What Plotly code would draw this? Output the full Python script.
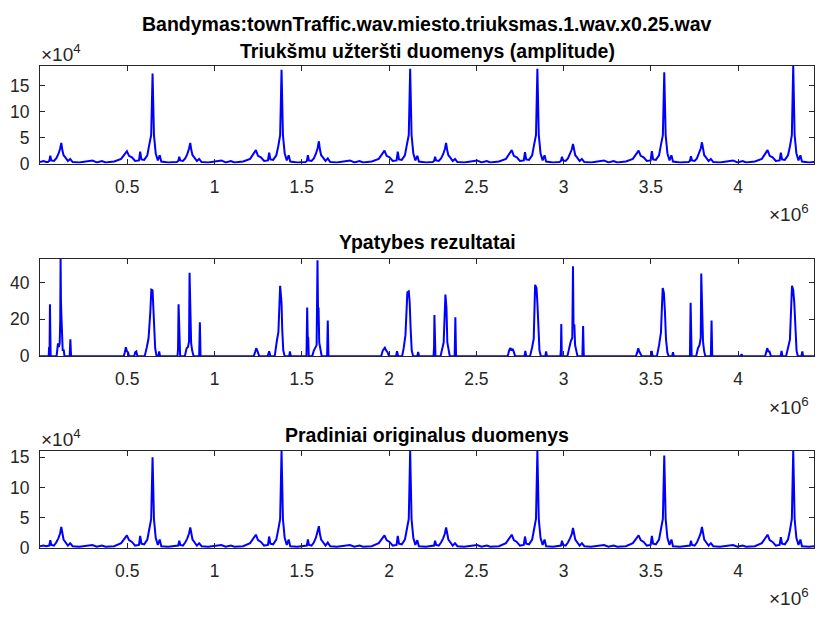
import plotly.graph_objects as go

# ---------------- data (x in units of 1e6 samples) ----------------
# Top: noisy data amplitude (units of 1e4)
noisy_x = [
    0.000, 0.020, 0.035,
    0.045, 0.053, 0.059, 0.065, 0.080, 0.093, 0.105, 0.115, 0.122, 0.128, 0.135, 0.145, 0.160, 0.173, 0.187, 0.225, 0.265, 0.300, 0.325, 0.355, 0.375, 0.425, 0.465, 0.485, 0.498, 0.510, 0.527, 0.545, 0.567, 0.574, 0.581, 0.597, 0.615, 0.626, 0.637, 0.645, 0.653, 0.663, 0.675, 0.686, 0.695, 0.735, 0.765,
    0.784, 0.792, 0.798, 0.804, 0.819, 0.832, 0.844, 0.854, 0.861, 0.867, 0.874, 0.884, 0.899, 0.912, 0.926, 0.964, 1.004, 1.039, 1.064, 1.094, 1.114, 1.164, 1.204, 1.224, 1.237, 1.249, 1.266, 1.284, 1.306, 1.313, 1.320, 1.336, 1.354, 1.365, 1.376, 1.384, 1.392, 1.402, 1.414, 1.425, 1.434, 1.474, 1.504,
    1.521, 1.529, 1.535, 1.541, 1.556, 1.569, 1.581, 1.591, 1.598, 1.604, 1.611, 1.621, 1.636, 1.649, 1.663, 1.701, 1.741, 1.776, 1.801, 1.831, 1.851, 1.901, 1.941, 1.961, 1.974, 1.986, 2.003, 2.021, 2.043, 2.050, 2.057, 2.073, 2.091, 2.102, 2.113, 2.121, 2.129, 2.139, 2.151, 2.162, 2.171, 2.211, 2.241,
    2.250, 2.258, 2.264, 2.270, 2.285, 2.298, 2.310, 2.320, 2.327, 2.333, 2.340, 2.350, 2.365, 2.378, 2.392, 2.430, 2.470, 2.505, 2.530, 2.560, 2.580, 2.630, 2.670, 2.690, 2.703, 2.715, 2.732, 2.750, 2.772, 2.779, 2.786, 2.802, 2.820, 2.831, 2.842, 2.850, 2.858, 2.868, 2.880, 2.891, 2.900, 2.940, 2.970,
    2.977, 2.985, 2.991, 2.997, 3.012, 3.025, 3.037, 3.047, 3.054, 3.060, 3.067, 3.077, 3.092, 3.105, 3.119, 3.157, 3.197, 3.232, 3.257, 3.287, 3.307, 3.357, 3.397, 3.417, 3.430, 3.442, 3.459, 3.477, 3.499, 3.506, 3.513, 3.529, 3.547, 3.558, 3.569, 3.577, 3.585, 3.595, 3.607, 3.618, 3.627, 3.667, 3.697,
    3.716, 3.724, 3.730, 3.736, 3.751, 3.764, 3.776, 3.786, 3.793, 3.799, 3.806, 3.816, 3.831, 3.844, 3.858, 3.896, 3.936, 3.971, 3.996, 4.026, 4.046, 4.096, 4.136, 4.156, 4.169, 4.181, 4.198, 4.216, 4.238, 4.245, 4.252, 4.268, 4.286, 4.297, 4.308, 4.316, 4.324, 4.334, 4.346, 4.357, 4.366, 4.406, 4.435,
]
noisy_y = [
    0.3, 0.5, 0.3,
    0.3, 0.5, 1.5, 0.6, 0.5, 1.0, 1.8, 2.8, 4.0, 2.6, 1.6, 1.2, 0.5, 0.9, 0.3, 0.2, 0.4, 0.6, 0.2, 0.5, 0.2, 0.4, 0.9, 1.8, 2.4, 1.5, 1.2, 0.5, 0.6, 2.3, 0.8, 0.7, 1.6, 3.6, 5.5, 17.4, 5.5, 2.0, 0.6, 1.6, 0.4, 0.2, 0.3,
    0.3, 0.5, 1.3, 0.6, 0.5, 1.0, 1.8, 2.9, 4.0, 2.6, 1.6, 1.2, 0.5, 0.9, 0.3, 0.2, 0.4, 0.6, 0.2, 0.5, 0.2, 0.4, 0.9, 1.8, 2.6, 1.5, 1.2, 0.5, 0.6, 2.1, 0.8, 0.7, 1.6, 3.3, 5.5, 18.1, 5.5, 2.0, 0.6, 1.6, 0.4, 0.2, 0.3,
    0.3, 0.5, 1.6, 0.6, 0.5, 1.0, 1.9, 3.0, 4.3, 2.7, 1.6, 1.2, 0.5, 1.0, 0.3, 0.2, 0.4, 0.6, 0.2, 0.5, 0.2, 0.4, 0.9, 1.8, 2.5, 1.5, 1.2, 0.5, 0.6, 2.3, 0.8, 0.7, 1.6, 3.6, 5.5, 18.3, 5.5, 2.0, 0.6, 1.5, 0.4, 0.2, 0.3,
    0.3, 0.5, 1.3, 0.6, 0.5, 1.0, 1.8, 2.8, 4.0, 2.6, 1.6, 1.2, 0.5, 0.9, 0.3, 0.2, 0.4, 0.6, 0.2, 0.5, 0.2, 0.4, 0.9, 1.8, 2.6, 1.5, 1.2, 0.5, 0.6, 2.2, 0.8, 0.7, 1.6, 3.6, 5.5, 18.3, 5.5, 2.0, 0.6, 1.6, 0.4, 0.2, 0.3,
    0.3, 0.5, 1.3, 0.6, 0.5, 1.0, 1.8, 2.7, 3.8, 2.5, 1.6, 1.2, 0.5, 0.9, 0.3, 0.2, 0.4, 0.6, 0.2, 0.5, 0.2, 0.4, 0.9, 1.8, 2.5, 1.5, 1.2, 0.5, 0.6, 2.4, 0.8, 0.7, 1.6, 3.6, 5.5, 17.6, 5.5, 2.0, 0.6, 1.6, 0.4, 0.2, 0.3,
    0.3, 0.5, 1.4, 0.6, 0.5, 1.0, 1.9, 2.9, 4.1, 2.6, 1.6, 1.2, 0.5, 0.9, 0.3, 0.2, 0.4, 0.6, 0.2, 0.5, 0.2, 0.4, 0.9, 1.8, 2.6, 1.5, 1.2, 0.5, 0.6, 2.1, 0.8, 0.7, 1.6, 3.3, 5.5, 18.9, 5.5, 2.0, 0.6, 1.6, 0.4, 0.2, 0.3,
]

# Bottom: original data amplitude (units of 1e4), same sample positions
original_x = noisy_x
original_y = [
    0.3, 0.4, 0.3,
    0.3, 0.4, 1.3, 0.5, 0.4, 0.9, 1.6, 2.4, 3.5, 2.3, 1.4, 1.0, 0.4, 0.8, 0.3, 0.2, 0.3, 0.5, 0.2, 0.4, 0.2, 0.3, 0.8, 1.6, 2.1, 1.3, 1.0, 0.4, 0.5, 2.0, 0.7, 0.6, 1.4, 3.1, 4.8, 15.0, 4.8, 1.7, 0.5, 1.4, 0.3, 0.2, 0.3,
    0.3, 0.4, 1.2, 0.5, 0.4, 0.9, 1.6, 2.4, 3.4, 2.3, 1.4, 1.0, 0.4, 0.8, 0.3, 0.2, 0.3, 0.5, 0.2, 0.4, 0.2, 0.3, 0.8, 1.6, 2.2, 1.3, 1.0, 0.4, 0.5, 1.9, 0.7, 0.6, 1.4, 3.0, 4.8, 16.1, 4.8, 1.7, 0.5, 1.4, 0.3, 0.2, 0.3,
    0.3, 0.4, 1.4, 0.5, 0.4, 0.9, 1.7, 2.6, 3.6, 2.3, 1.4, 1.0, 0.4, 0.9, 0.3, 0.2, 0.3, 0.5, 0.2, 0.4, 0.2, 0.3, 0.8, 1.6, 2.1, 1.3, 1.0, 0.4, 0.5, 2.0, 0.7, 0.6, 1.4, 3.1, 4.8, 16.1, 4.8, 1.7, 0.5, 1.3, 0.3, 0.2, 0.3,
    0.3, 0.4, 1.2, 0.5, 0.4, 0.9, 1.6, 2.4, 3.4, 2.3, 1.4, 1.0, 0.4, 0.8, 0.3, 0.2, 0.3, 0.5, 0.2, 0.4, 0.2, 0.3, 0.8, 1.6, 2.2, 1.3, 1.0, 0.4, 0.5, 1.9, 0.7, 0.6, 1.4, 3.1, 4.8, 16.1, 4.8, 1.7, 0.5, 1.4, 0.3, 0.2, 0.3,
    0.3, 0.4, 1.2, 0.5, 0.4, 0.9, 1.6, 2.3, 3.3, 2.2, 1.4, 1.0, 0.4, 0.8, 0.3, 0.2, 0.3, 0.5, 0.2, 0.4, 0.2, 0.3, 0.8, 1.6, 2.1, 1.3, 1.0, 0.4, 0.5, 2.0, 0.7, 0.6, 1.4, 3.1, 4.8, 15.3, 4.8, 1.7, 0.5, 1.4, 0.3, 0.2, 0.3,
    0.3, 0.4, 1.2, 0.5, 0.4, 0.9, 1.7, 2.5, 3.5, 2.3, 1.4, 1.0, 0.4, 0.8, 0.3, 0.2, 0.3, 0.5, 0.2, 0.4, 0.2, 0.3, 0.8, 1.6, 2.2, 1.3, 1.0, 0.4, 0.5, 1.8, 0.7, 0.6, 1.4, 2.9, 4.8, 16.1, 4.8, 1.7, 0.5, 1.4, 0.3, 0.2, 0.3,
]

# Middle: feature results
feature_x = [
    0.000, 0.050, 0.052, 0.055, 0.057, 0.059, 0.061, 0.095, 0.100, 0.103, 0.108, 0.113, 0.116, 0.118, 0.120, 0.122, 0.125, 0.130, 0.136, 0.140, 0.170, 0.174, 0.178,
    0.480, 0.486, 0.492, 0.498, 0.505, 0.510, 0.540, 0.545, 0.552, 0.558,
    0.600, 0.612, 0.622, 0.632, 0.638, 0.645, 0.649, 0.655, 0.660, 0.668, 0.678, 0.683, 0.688,
    0.788, 0.791, 0.794, 0.797, 0.800, 0.803,
    0.830, 0.840, 0.848, 0.854, 0.857, 0.860, 0.862, 0.866, 0.872, 0.880,
    0.912, 0.916, 0.920,
    1.225, 1.232, 1.239, 1.245, 1.250, 1.256, 1.305, 1.313, 1.320,
    1.345, 1.357, 1.366, 1.376, 1.380, 1.384, 1.388, 1.394, 1.402, 1.428, 1.432, 1.437,
    1.527, 1.531, 1.534, 1.537, 1.540,
    1.560, 1.569, 1.578, 1.585, 1.590, 1.593, 1.596, 1.600, 1.606, 1.614,
    1.645, 1.649, 1.653,
    1.955, 1.964, 1.976, 1.984, 1.992, 2.000, 2.040, 2.046, 2.052,
    2.075, 2.084, 2.094, 2.105, 2.113, 2.118, 2.124, 2.130, 2.138, 2.162, 2.167, 2.172,
    2.255, 2.258, 2.260, 2.263, 2.266,
    2.295, 2.304, 2.313, 2.323, 2.329, 2.334, 2.340, 2.348,
    2.376, 2.380, 2.384,
    2.680, 2.688, 2.695, 2.702, 2.708, 2.716, 2.722, 2.776, 2.781, 2.786,
    2.808, 2.820, 2.829, 2.837, 2.845, 2.850, 2.856, 2.862, 2.870, 2.895, 2.900, 2.905,
    2.982, 2.985, 2.987, 2.990,
    3.022, 3.031, 3.041, 3.050, 3.054, 3.057, 3.062, 3.066, 3.072, 3.080,
    3.108, 3.112, 3.116,
    3.415, 3.422, 3.428, 3.434, 3.440, 3.448, 3.500, 3.505, 3.510,
    3.535, 3.547, 3.558, 3.568, 3.575, 3.581, 3.587, 3.595, 3.602, 3.622, 3.627, 3.632,
    3.724, 3.728, 3.731, 3.734,
    3.760, 3.770, 3.779, 3.786, 3.789, 3.792, 3.795, 3.799, 3.805, 3.812,
    3.844, 3.848, 3.852,
    4.015, 4.020, 4.025,
    4.155, 4.162, 4.167, 4.174, 4.180, 4.188, 4.244, 4.249, 4.254,
    4.275, 4.288, 4.297, 4.309, 4.316, 4.322, 4.328, 4.335, 4.342, 4.363, 4.368, 4.373, 4.435,
]
feature_y = [
    0, 0, 5, 4, 28.1, 6, 0, 0, 4, 6.9, 5, 7, 20, 53.0, 30, 23.7, 7.9, 3, 3.5, 0, 0, 9.2, 0,
    0, 2, 4.8, 2.7, 2, 0, 0, 2, 2.5, 0,
    0, 4.8, 9.7, 23.7, 36.1, 35.7, 26.3, 12.9, 4.3, 0, 0, 2.5, 0,
    0, 4, 28.1, 10.6, 11, 0,
    0, 4.3, 5, 8, 45.3, 23, 22.8, 7, 3, 0,
    0, 18.4, 0,
    0, 2, 4.3, 3, 2, 0, 0, 2.7, 0,
    0, 8.2, 13, 38.2, 35, 29, 14.5, 3, 0, 0, 2.5, 0,
    0, 26.4, 10.5, 10, 0,
    0, 3, 4.8, 6, 52.0, 26, 26.4, 7.5, 3, 0,
    0, 19.3, 0,
    0, 3, 4.6, 3, 2, 0, 0, 2.7, 0,
    0, 4.3, 11.4, 34.7, 35.2, 29.6, 14.5, 3, 0, 0, 2.3, 0,
    0, 5, 22.3, 5, 0,
    0, 4.3, 7.4, 33.4, 26.4, 7.5, 3, 0,
    0, 21.1, 0,
    0, 3, 4.5, 3, 4, 2, 0, 0, 2.9, 0,
    0, 4.8, 9.3, 38.7, 37, 29, 14, 3, 0, 0, 2.5, 0,
    0, 4, 17.5, 0,
    0, 4.3, 7.9, 10, 48.8, 17, 16.8, 6, 3, 0,
    0, 16.3, 0,
    0, 2, 4.3, 2.5, 1.5, 0, 0, 2.9, 0,
    0, 5.8, 12.9, 37, 34.3, 23.7, 9, 2, 0, 0, 2.1, 0,
    0, 29.0, 11, 0,
    0, 4.3, 6, 10, 44.9, 26, 25.6, 8, 3, 0,
    0, 19.3, 0,
    0, 1.0, 0,
    0, 2, 4.3, 2.5, 2.5, 0, 0, 2.9, 0,
    0, 4.8, 8.9, 38.2, 36, 29, 13, 3, 0, 0, 2.5, 0, 0,
]

x_tick_vals = [0.5, 1, 1.5, 2, 2.5, 3, 3.5, 4]
x_tick_text = ["0.5", "1", "1.5", "2", "2.5", "3", "3.5", "4"]
amp_tick_vals = [0, 5, 10, 15]
amp_tick_text = ["0", "5", "10", "15"]
feat_tick_vals = [0, 20, 40]
feat_tick_text = ["0", "20", "40"]

main_title = "Bandymas:townTraffic.wav.miesto.triuksmas.1.wav.x0.25.wav"
titles = ["Triukšmu užteršti duomenys (amplitude)", "Ypatybes rezultatai", "Pradiniai originalus duomenys"]

# ---------------- figure ----------------
W, H = 816, 619
FONT = "Liberation Sans, Arial, Helvetica, sans-serif"
AXC = "#262626"
LINE = "#0000FF"
TICK_SIZE = 17.5
EXP_SIZE = 19
TITLE_SIZE = 19.5

def fy(py):
    return (H - py) / H

x0, x1 = 40 / W, 814 / W
panels = [  # (top px, bottom px)
    (64, 164),
    (261, 360.7),
    (457.3, 556.7),
]

fig = go.Figure()
for xs, ys, xa, ya in [(noisy_x, noisy_y, "x", "y"), (feature_x, feature_y, "x2", "y2"),
                       (original_x, original_y, "x3", "y3")]:
    fig.add_trace(go.Scatter(x=xs, y=ys, mode="lines", line=dict(color=LINE, width=2),
                             xaxis=xa, yaxis=ya, showlegend=False, hoverinfo="skip"))

common_x = dict(range=[0, 4.435], tickvals=x_tick_vals, ticktext=x_tick_text, ticks="inside",
                ticklen=5, tickcolor=AXC, showline=True, linecolor=AXC, linewidth=1, mirror="ticks",
                showgrid=False, zeroline=False, domain=[x0, x1], ticklabelstandoff=7,
                tickfont=dict(family=FONT, size=TICK_SIZE, color=AXC))
common_y = dict(ticks="inside", ticklen=5, tickcolor=AXC, showline=True, linecolor=AXC, linewidth=1,
                mirror="ticks", showgrid=False, zeroline=False, ticklabelstandoff=6,
                tickfont=dict(family=FONT, size=TICK_SIZE, color=AXC))

layout = dict(width=W, height=H, margin=dict(l=0, r=0, t=0, b=0),
              paper_bgcolor="white", plot_bgcolor="white", showlegend=False)
layout["xaxis"] = dict(common_x, anchor="y")
layout["yaxis"] = dict(common_y, anchor="x", range=[0, 18.9], tickvals=amp_tick_vals, ticktext=amp_tick_text,
                       domain=[fy(panels[0][1]), fy(panels[0][0])])
layout["xaxis2"] = dict(common_x, anchor="y2")
layout["yaxis2"] = dict(common_y, anchor="x2", range=[0, 53], tickvals=feat_tick_vals, ticktext=feat_tick_text,
                        domain=[fy(panels[1][1]), fy(panels[1][0])])
layout["xaxis3"] = dict(common_x, anchor="y3")
layout["yaxis3"] = dict(common_y, anchor="x3", range=[0, 16.1], tickvals=amp_tick_vals, ticktext=amp_tick_text,
                        domain=[fy(panels[2][1]), fy(panels[2][0])])
fig.update_layout(**layout)

cx = (x0 + x1) / 2
ann = []
ann.append(dict(text="<b>" + main_title + "</b>", x=cx, y=fy(21), xref="paper", yref="paper",
                xanchor="center", yanchor="middle", showarrow=False,
                font=dict(family=FONT, size=TITLE_SIZE, color="black")))
for t, py in zip(titles, [49.5, 244.5, 441]):
    ann.append(dict(text="<b>" + t + "</b>", x=cx, y=fy(py), xref="paper", yref="paper",
                    xanchor="center", yanchor="middle", showarrow=False,
                    font=dict(family=FONT, size=TITLE_SIZE, color="black")))
# exponent labels
for py in [51, 444]:
    ann.append(dict(text="×10<sup>4</sup>", x=39 / W, y=fy(py), xref="paper", yref="paper",
                    xanchor="left", yanchor="middle", showarrow=False,
                    font=dict(family=FONT, size=EXP_SIZE, color=AXC)))
for py in [215, 412, 607]:
    ann.append(dict(text="×10<sup>6</sup>", x=811 / W, y=fy(py), xref="paper", yref="paper",
                    xanchor="right", yanchor="middle", showarrow=False,
                    font=dict(family=FONT, size=EXP_SIZE, color=AXC)))
fig.update_layout(annotations=ann)

fig.write_html("out.html")
